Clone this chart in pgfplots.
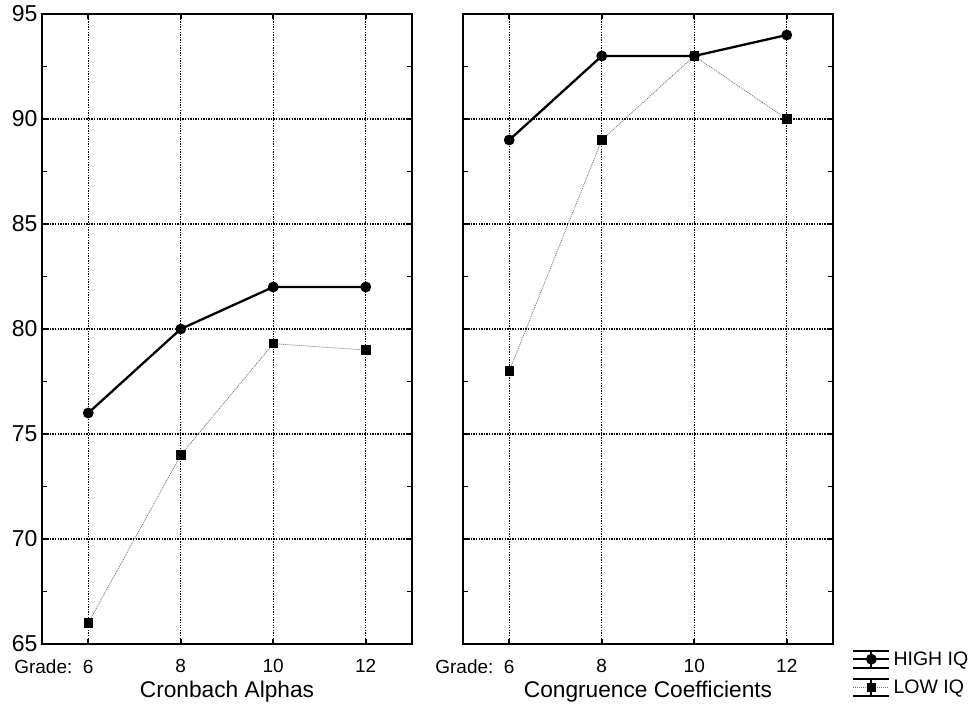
\documentclass[border=0pt]{standalone}
\usepackage{fontspec}
\setmainfont{Liberation Sans}
\usepackage{pgfplots}
\pgfplotsset{compat=1.18}

\pgfplotsset{
  panel/.style={
    scale only axis,
    width=370pt, height=630pt,
    xmin=5, xmax=13, ymin=65, ymax=95,
    xtick={6,8,10,12},
    xticklabels={{\llap{Grade:\ \ }6},8,10,12},
    ytick={65,70,...,95},
    minor y tick num=1,
    tick align=inside,
    major tick length=5pt, minor tick length=5pt,
    every tick/.style={black, line width=1.6pt},
    grid=major,
    major grid style={black, line width=1.1pt, dash pattern=on 1.3pt off 1.3pt},
    axis line style={line width=2.2pt},
    /pgf/number format/assume math mode=true,
    tick label style={font=\fontsize{23}{27}\selectfont},
    yticklabel style={xshift=-1pt},
    xticklabel style={font=\fontsize{19}{22}\selectfont, yshift=-12pt},
    xlabel style={at={(axis description cs:0.5,0)}, anchor=center, yshift=-48pt,
      font=\fontsize{22.7}{26}\selectfont},
    clip=false,
  },
  high/.style={black, line width=2.3pt, mark=*, mark size=4.2pt, mark options={solid}},
  low/.style={black!55, line width=0.8pt, dash pattern=on 1pt off 1pt, mark=square*,
    mark size=4.2pt, mark options={solid, fill=black, draw=black}},
}

\begin{document}
\begin{tikzpicture}
\begin{axis}[panel, name=left, at={(0,0)}, anchor=south west,
  xlabel={Cronbach Alphas}]
\addplot[low] coordinates {(6,66) (8,74) (10,79.3) (12,79)};
\addplot[high] coordinates {(6,76) (8,80) (10,82) (12,82)};
\end{axis}

\begin{axis}[panel, at={(421pt,0)}, anchor=south west,
  yticklabels={},
  xlabel={Congruence Coefficients},
  legend style={at={(1,0)}, anchor=north west, xshift=19pt, yshift=-1pt,
    draw=none, fill=none, inner sep=0pt, row sep=0pt,
    nodes={inner xsep=3pt, inner ysep=0pt, minimum height=28pt},
    font=\fontsize{19.5}{22}\selectfont},
  legend cell align=left,
  legend image code/.code={
    \draw[black, line width=1.8pt, solid] (0pt,8pt)--(36pt,8pt) (0pt,-9pt)--(36pt,-9pt)
      (18pt,-9pt)--(18pt,8pt);
    \draw[mark repeat=2, mark phase=2, #1] plot coordinates {(0pt,0pt) (18pt,0pt) (36pt,0pt)};
  },
  reverse legend]
\addplot[low] coordinates {(6,78) (8,89) (10,93) (12,90)};
\addlegendentry{LOW IQ}
\addplot[high] coordinates {(6,89) (8,93) (10,93) (12,94)};
\addlegendentry{HIGH IQ}
\end{axis}
\path (-42pt,-83pt) rectangle (931pt,644pt);
\end{tikzpicture}
\end{document}
